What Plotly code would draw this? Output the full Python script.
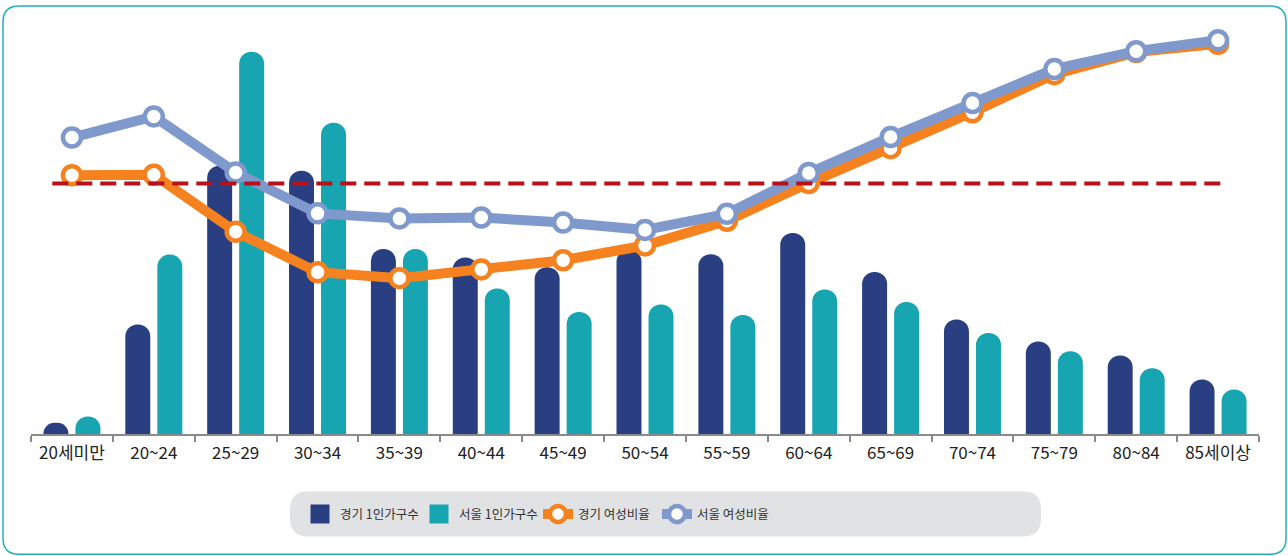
import plotly.graph_objects as go

# ---------------- data ----------------
age_groups = ["20세미만", "20~24", "25~29", "30~34", "35~39", "40~44", "45~49",
              "50~54", "55~59", "60~64", "65~69", "70~74", "75~79", "80~84", "85세이상"]

# 1인가구수 (천 가구)
gyeonggi_households = [5.6, 54.8, 134.3, 131.8, 92.6, 88.4, 83.5, 92.3, 90.0, 100.6,
                       81.1, 57.3, 46.3, 39.3, 27.3]
seoul_households = [8.8, 89.8, 191.3, 155.8, 92.6, 72.8, 61.1, 64.8, 59.6, 72.3,
                    66.1, 50.6, 41.4, 32.9, 22.3]

# 여성비율 (%)
gyeonggi_female_ratio = [51.8, 51.9, 39.5, 30.7, 29.4, 31.3, 33.3, 36.5, 41.9, 50.1,
                         57.7, 65.5, 73.8, 78.6, 80.4]
seoul_female_ratio = [60.0, 64.6, 52.4, 43.5, 42.4, 42.6, 41.5, 39.9, 43.4, 52.3,
                      60.1, 67.5, 74.9, 78.8, 81.2]

reference_ratio = 50  # 기준선 (%)

series_names = ["경기 1인가구수", "서울 1인가구수", "경기 여성비율", "서울 여성비율"]

# ---------------- style ----------------
NAVY = "#293F82"
TEAL = "#17A5B1"
ORANGE = "#F5821F"
LBLUE = "#7F99CC"
RED = "#B5121B"
FONT = "Noto Sans CJK KR"

W, H = 1288, 556
PL, PR, PT, PB = 31, 1259, 20, 434.5   # plot area in pixels


def px_x(px):
    return (px - PL) / (PR - PL)


def px_y(py):
    return (PB - py) / (PB - PT)


def rounded_rect(x0, y0, x1, y1, r):
    X = px_x
    Y = px_y
    return (f"M {X(x0 + r)},{Y(y0)} L {X(x1 - r)},{Y(y0)} Q {X(x1)},{Y(y0)} {X(x1)},{Y(y0 + r)} "
            f"L {X(x1)},{Y(y1 - r)} Q {X(x1)},{Y(y1)} {X(x1 - r)},{Y(y1)} "
            f"L {X(x0 + r)},{Y(y1)} Q {X(x0)},{Y(y1)} {X(x0)},{Y(y1 - r)} "
            f"L {X(x0)},{Y(y0 + r)} Q {X(x0)},{Y(y0)} {X(x0 + r)},{Y(y0)} Z")


fig = go.Figure()

bar_series = [(gyeonggi_households, series_names[0], NAVY, "gg"),
              (seoul_households, series_names[1], TEAL, "se")]
for vals, name, color, grp in bar_series:
    fig.add_trace(go.Bar(x=age_groups, y=vals, name=name, legendgroup=grp, showlegend=False,
                         marker=dict(color=color, cornerradius=13, line=dict(width=0)),
                         yaxis="y"))

# legend entries for the bars (larger square symbol, linked via legendgroup)
for vals, name, color, grp in bar_series:
    fig.add_trace(go.Scatter(x=[None], y=[None], name=name, legendgroup=grp, mode="markers",
                             marker=dict(symbol="square", size=16, color=color,
                                         line=dict(color=color, width=3)),
                             yaxis="y", hoverinfo="skip"))

fig.add_trace(go.Scatter(x=age_groups, y=gyeonggi_female_ratio, name=series_names[2],
                         mode="lines+markers", yaxis="y2",
                         line=dict(color=ORANGE, width=10),
                         marker=dict(size=18, color="white", line=dict(color=ORANGE, width=4.5))))
fig.add_trace(go.Scatter(x=age_groups, y=seoul_female_ratio, name=series_names[3],
                         mode="lines+markers", yaxis="y2",
                         line=dict(color=LBLUE, width=10),
                         marker=dict(size=18, color="white", line=dict(color=LBLUE, width=4.5))))

y1_max = (PB - PT) * 0.5
k = 4.6  # px per %
y2_min = reference_ratio - (PB - 183.7) / k
y2_max = reference_ratio + (183.7 - PT) / k

shapes = [
    dict(type="path", xref="paper", yref="paper", layer="below",
         path=rounded_rect(3, 6, 1286, 555, 16),
         line=dict(color="#22B0BE", width=1.5), fillcolor="rgba(0,0,0,0)"),
    dict(type="path", xref="paper", yref="paper", layer="below",
         path=rounded_rect(290, 492, 1041, 537, 18),
         line=dict(width=0), fillcolor="#E1E2E4"),
    dict(type="line", xref="x", yref="y2", x0=-0.24, x1=len(age_groups) - 1 + 0.04,
         y0=reference_ratio, y1=reference_ratio, layer="above",
         line=dict(color=RED, width=4, dash="16px,8px")),
]

fig.update_layout(
    width=W, height=H,
    margin=dict(l=PL, r=W - PR, t=PT, b=H - PB, pad=0),
    paper_bgcolor="white", plot_bgcolor="white",
    font=dict(family=FONT, size=17, color="#222222"),
    barmode="group", bargap=0.218, bargroupgap=0.22,
    showlegend=True,
    legend=dict(orientation="h", x=px_x(300), xanchor="left", y=px_y(515), yanchor="middle",
                bgcolor="rgba(0,0,0,0)", font=dict(size=12.5, color="#333333"),
                traceorder="normal", itemwidth=30, entrywidth=74, entrywidthmode="pixels"),
    xaxis=dict(type="category", range=[-0.5, len(age_groups) - 0.5],
               showline=True, linecolor="#8A8A8A", linewidth=2,
               ticks="outside", tickson="boundaries", ticklen=6, tickwidth=2,
               tickcolor="#8A8A8A", showgrid=False, zeroline=False, ticklabelstandoff=3,
               tickfont=dict(size=17, color="#222222")),
    yaxis=dict(range=[0, y1_max], visible=False, showgrid=False, zeroline=False),
    yaxis2=dict(range=[y2_min, y2_max], overlaying="y", side="right", visible=False,
                showgrid=False, zeroline=False),
    shapes=shapes,
)

fig.write_html("out.html", config={"displayModeBar": False},
               post_script="document.body.style.margin='0';document.body.style.padding='0';")
